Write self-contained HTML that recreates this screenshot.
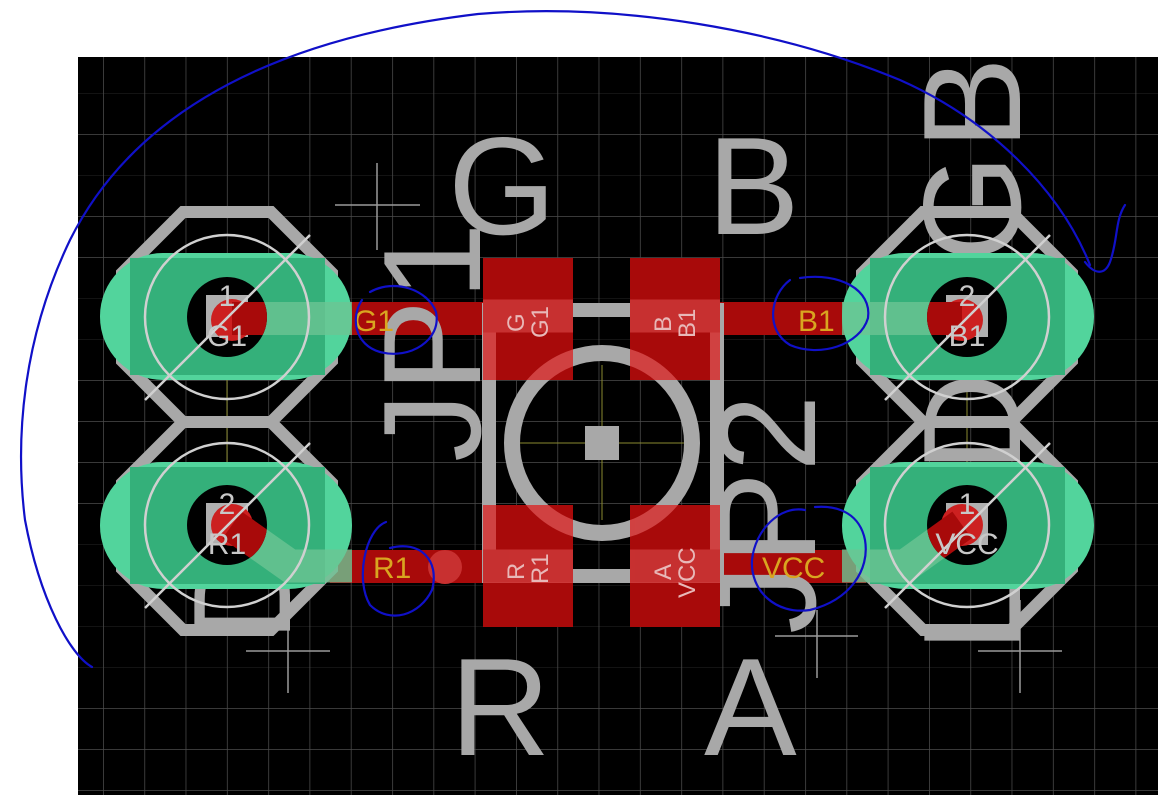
<!DOCTYPE html>
<html><head><meta charset="utf-8"><style>
html,body{margin:0;padding:0;background:#fff;}
svg{display:block;}
text{font-family:"Liberation Sans",sans-serif;}
</style></head><body>
<svg width="1168" height="805" viewBox="0 0 1168 805" xmlns="http://www.w3.org/2000/svg">
<defs>
<pattern id="grid" x="20.4" y="11" width="41.3" height="41" patternUnits="userSpaceOnUse">
<path d="M0 0H41.3M0 0V41" stroke="#4c4c4c" stroke-width="1.5" fill="none"/>
</pattern>
<clipPath id="padclip">
<rect x="483" y="258" width="90" height="122"/><rect x="630" y="258" width="90" height="122"/>
<rect x="483" y="505" width="90" height="122"/><rect x="630" y="505" width="90" height="122"/>
</clipPath>
<clipPath id="h1"><circle cx="227" cy="317" r="40"/></clipPath>
<clipPath id="h2"><circle cx="227" cy="525" r="40"/></clipPath>
<clipPath id="h3"><circle cx="967" cy="317" r="40"/></clipPath>
<clipPath id="h4"><circle cx="967" cy="525" r="40"/></clipPath>
</defs>
<rect x="78" y="57" width="1080" height="738" fill="#000"/>
<rect x="78" y="57" width="1080" height="738" fill="url(#grid)"/>

<g stroke="#9a9a9a" stroke-width="1.5">
<path d="M335 205H420M377 163V250"/>
<path d="M246 651H330M288 610V693"/>
<path d="M775 636H858M817 610V678"/>
<path d="M978 651H1062M1020 600V693"/>
</g>
<g stroke="#8a8a30" stroke-width="1">
<path d="M227 300V545M520 443H685M602 365V520M967 300V545"/>
</g>

<g fill="#a80a0a">
<rect x="232" y="302" width="255" height="33"/>
<rect x="716" y="302" width="251" height="33"/>
<rect x="330" y="550" width="157" height="33"/>
<rect x="716" y="550" width="150" height="33"/>
</g>
<path d="M232 525L290 566L335 566" stroke="#a80a0a" stroke-width="33" fill="none"/>
<path d="M962 525L905 566L860 566" stroke="#a80a0a" stroke-width="33" fill="none"/>
<circle cx="445" cy="567" r="17" fill="#c83030"/>

<g fill="none" stroke="#a8a8a8" stroke-width="12">
<path d="M183 212H271L332 273V361L271 422H183L122 361V273Z"/>
<path d="M183 422H271L332 483V569L271 630H183L122 569V483Z"/>
<path d="M923 212H1011L1072 273V361L1011 422H923L862 361V273Z"/>
<path d="M923 422H1011L1072 483V569L1011 630H923L862 569V483Z"/>
</g>

<g fill="#a8a8a8" font-size="139">
<text x="448" y="234">G</text>
<text x="707" y="234">B</text>
<text x="450" y="755">R</text>
<text x="704" y="755">A</text>
<text transform="translate(480,462) rotate(-90)">JP1</text>
<text transform="translate(815,634) rotate(-90)">JP2</text>
<text transform="translate(1020,652) rotate(-90)" textLength="595" lengthAdjust="spacing">LEDRGB</text>
<text transform="translate(290,642) rotate(-90)">D1</text>
</g>

<rect x="489" y="310" width="228" height="266" fill="none" stroke="#a8a8a8" stroke-width="14"/>
<circle cx="602" cy="443" r="90" fill="none" stroke="#a8a8a8" stroke-width="16"/>
<rect x="585" y="426" width="34" height="34" fill="#a8a8a8"/>

<g fill="#a80a0a">
<rect x="483" y="258" width="90" height="122"/><rect x="630" y="258" width="90" height="122"/>
<rect x="483" y="505" width="90" height="122"/><rect x="630" y="505" width="90" height="122"/>
</g>
<g clip-path="url(#padclip)" opacity="0.55">
<rect x="489" y="310" width="228" height="266" fill="none" stroke="#f07070" stroke-width="14"/>
<circle cx="602" cy="443" r="90" fill="none" stroke="#f07070" stroke-width="16"/>
<path d="M420 316H800M420 566H800" stroke="#e05050" stroke-width="33"/>
</g>
<g fill="#e8b8b8" font-size="24">
<text transform="translate(524,332) rotate(-90)">G</text>
<text transform="translate(548,338) rotate(-90)">G1</text>
<text transform="translate(671,332) rotate(-90)">B</text>
<text transform="translate(695,338) rotate(-90)">B1</text>
<text transform="translate(524,580) rotate(-90)">R</text>
<text transform="translate(548,584) rotate(-90)">R1</text>
<text transform="translate(671,580) rotate(-90)">A</text>
<text transform="translate(695,598) rotate(-90)">VCC</text>
</g>

<g>
<rect x="100" y="253" width="252" height="127" rx="63" fill="#52d49c"/>
<rect x="130" y="258" width="195" height="117" fill="#34b07a"/>
<rect x="100" y="462" width="252" height="127" rx="63" fill="#52d49c"/>
<rect x="130" y="467" width="195" height="117" fill="#34b07a"/>
<rect x="842" y="253" width="252" height="127" rx="63" fill="#52d49c"/>
<rect x="870" y="258" width="195" height="117" fill="#34b07a"/>
<rect x="842" y="462" width="252" height="127" rx="63" fill="#52d49c"/>
<rect x="870" y="467" width="195" height="117" fill="#34b07a"/>
</g>
<g fill="#6cc494" opacity="0.8">
<rect x="232" y="302" width="120" height="33"/>
<rect x="842" y="302" width="125" height="33"/>
</g>
<path d="M232 525L290 566L352 566" stroke="#6cc494" stroke-width="33" fill="none" opacity="0.8"/>
<path d="M962 525L905 566L842 566" stroke="#6cc494" stroke-width="33" fill="none" opacity="0.8"/>

<g fill="#000">
<circle cx="227" cy="317" r="40"/><circle cx="227" cy="525" r="40"/>
<circle cx="967" cy="317" r="40"/><circle cx="967" cy="525" r="40"/>
</g>
<g clip-path="url(#h1)"><rect x="206" y="295" width="42" height="42" fill="#b0b0b0"/><circle cx="232" cy="320" r="21" fill="#cc2020"/><rect x="232" y="302" width="50" height="33" fill="#a80a0a"/></g>
<g clip-path="url(#h2)"><rect x="206" y="503" width="42" height="42" fill="#b0b0b0"/><circle cx="232" cy="525" r="21" fill="#cc2020"/><path d="M232 525L290 566" stroke="#a80a0a" stroke-width="33"/></g>
<g clip-path="url(#h3)"><rect x="946" y="295" width="42" height="42" fill="#b0b0b0"/><circle cx="962" cy="320" r="21" fill="#cc2020"/><rect x="905" y="302" width="57" height="33" fill="#a80a0a"/></g>
<g clip-path="url(#h4)"><rect x="946" y="503" width="42" height="42" fill="#b0b0b0"/><circle cx="962" cy="525" r="21" fill="#cc2020"/><path d="M962 525L905 566" stroke="#a80a0a" stroke-width="33"/></g>

<g fill="none" stroke="#d0d0d0" stroke-width="2.5">
<circle cx="227" cy="317" r="82"/><circle cx="227" cy="525" r="82"/>
<circle cx="967" cy="317" r="82"/><circle cx="967" cy="525" r="82"/>
<path d="M145 400L310 235M145 608L310 443M885 400L1050 235M885 608L1050 443"/>
</g>
<g fill="#c8c8c8" font-size="30" text-anchor="middle">
<text x="227" y="306">1</text><text x="227" y="346">G1</text>
<text x="227" y="514">2</text><text x="227" y="554">R1</text>
<text x="967" y="306">2</text><text x="967" y="346">B1</text>
<text x="967" y="514">1</text><text x="967" y="554">VCC</text>
</g>

<g fill="#d9a520" font-size="30">
<text x="354" y="331">G1</text>
<text x="373" y="578">R1</text>
<text x="798" y="331">B1</text>
<text x="762" y="578">VCC</text>
</g>

<g fill="none" stroke="#1010c8" stroke-width="2.2" stroke-linecap="round">
<path d="M92 667C70 655 40 600 25 520C15 440 22 340 70 240C130 120 260 40 478 14C620 2 780 30 900 80C990 120 1060 190 1090 265"/>
<path d="M1085 262C1095 275 1105 275 1110 262C1118 240 1115 220 1125 205"/>
<path d="M370 292C395 278 428 290 436 312C442 340 410 360 380 352C355 345 350 318 362 300"/>
<path d="M386 522C365 530 355 580 370 605C390 625 420 615 432 590C440 560 420 540 390 548"/>
<path d="M790 280C770 295 765 330 790 345C820 358 860 345 868 318C872 290 840 272 800 278"/>
<path d="M805 510C780 505 755 530 752 560C750 590 775 615 810 610C850 600 870 570 865 540C860 515 840 505 815 507"/>
</g>
</svg>
</body></html>
